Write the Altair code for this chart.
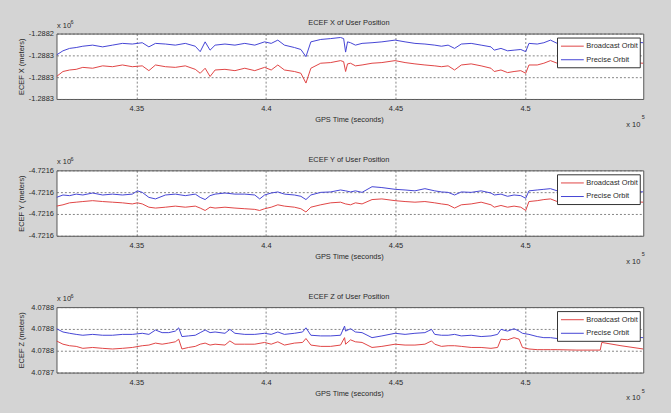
import altair as alt
import pandas as pd

RED = "#e04444"
BLUE = "#4444d4"
FONT = "Liberation Sans"
TXT = "#2a2a2a"

X_TICKS = [435000, 440000, 445000, 450000]
X_DOMAIN = [431920, 454560]

# ---------------- ECEF X ----------------
t_x = [431920, 432170, 432425, 432680, 432935, 433315, 433700, 434080, 434465, 434845,
       435230, 435485, 435740, 436125, 436505, 436890, 437275, 437465, 437655, 437845,
       438040, 438420, 438805, 439185, 439570, 439950, 440205, 440460, 440715, 441100,
       441350, 441545, 441735, 442115, 442500, 442880, 443000, 443075, 443150, 443265,
       443455, 443710, 444095, 444475, 444985, 445370, 445750, 446135, 446515, 446775,
       447030, 447280, 447540, 447920, 448305, 448685, 448810, 449070, 449325, 449575,
       449835, 450025, 450150, 450470, 450725, 450980, 451240, 452000, 453000, 454000,
       454560]
x_precise = [-1288255.8, -1288253.9, -1288252.8, -1288252.4, -1288251.8, -1288251.3, -1288252.1,
             -1288251.3, -1288250.5, -1288250.8, -1288250.2, -1288252.1, -1288250.5, -1288250.8,
             -1288251.3, -1288250.5, -1288251.8, -1288254.3, -1288249.8, -1288253.6, -1288251.3,
             -1288250.8, -1288251.3, -1288250.5, -1288251.3, -1288249.8, -1288250.5, -1288249.0,
             -1288251.3, -1288252.4, -1288253.3, -1288256.6, -1288249.8, -1288248.7, -1288248.3,
             -1288247.8, -1288248.3, -1288254.5, -1288249.8, -1288250.2, -1288251.3, -1288250.5,
             -1288250.2, -1288249.8, -1288249.0, -1288249.8, -1288250.5, -1288250.8, -1288251.3,
             -1288251.8, -1288251.3, -1288252.8, -1288250.8, -1288250.5, -1288251.3, -1288252.1,
             -1288253.6, -1288252.8, -1288253.9, -1288253.6, -1288253.3, -1288254.3, -1288250.5,
             -1288250.8, -1288250.2, -1288249.0, -1288250.5, -1288250.2, -1288250.5, -1288249.8,
             -1288250.2]
x_broadcast = [-1288265.7, -1288263.4, -1288262.7, -1288262.4, -1288261.5, -1288261.9, -1288260.8,
               -1288261.2, -1288260.4, -1288261.2, -1288260.8, -1288263.0, -1288260.4, -1288261.2,
               -1288261.5, -1288260.8, -1288262.4, -1288264.2, -1288261.9, -1288265.7, -1288262.7,
               -1288262.4, -1288263.0, -1288261.9, -1288263.0, -1288261.5, -1288262.7, -1288260.4,
               -1288262.7, -1288263.4, -1288264.2, -1288268.7, -1288261.9, -1288259.6, -1288259.3,
               -1288258.4, -1288258.9, -1288263.4, -1288259.9, -1288259.6, -1288260.8, -1288260.4,
               -1288259.6, -1288259.3, -1288258.4, -1288259.3, -1288259.9, -1288260.4, -1288260.8,
               -1288261.2, -1288260.8, -1288262.7, -1288260.4, -1288259.9, -1288260.8, -1288261.9,
               -1288263.4, -1288262.7, -1288263.9, -1288263.4, -1288263.0, -1288264.2, -1288260.4,
               -1288260.4, -1288259.6, -1288258.4, -1288259.6, -1288259.6, -1288259.9, -1288259.3,
               -1288259.6]
x_yticks = [-1288276, -1288266, -1288256, -1288246]

# ---------------- ECEF Y ----------------
t_y = [431920, 432170, 432425, 432680, 432935, 433315, 433700, 434080, 434465, 434845,
       435040, 435230, 435485, 435740, 436125, 436505, 436890, 437275, 437465, 437655,
       437845, 438040, 438420, 438805, 439185, 439570, 439760, 439950, 440205, 440460,
       440715, 441100, 441350, 441545, 441735, 442115, 442500, 442880, 443075, 443265,
       443455, 443710, 444095, 444475, 444985, 445370, 445750, 446135, 446515, 446775,
       447030, 447280, 447540, 447920, 448305, 448685, 448810, 449070, 449325, 449575,
       449835, 450025, 450150, 450470, 450725, 450980, 451240, 452000, 453000, 454000,
       454560]
y_precise = [-4721572.4, -4721571.3, -4721571.6, -4721570.9, -4721571.3, -4721570.4, -4721571.3,
             -4721570.9, -4721571.3, -4721570.9, -4721569.4, -4721570.1, -4721572.4, -4721573.1,
             -4721571.3, -4721570.9, -4721571.6, -4721570.9, -4721572.4, -4721573.4, -4721571.6,
             -4721570.9, -4721570.4, -4721570.9, -4721570.9, -4721571.3, -4721573.1, -4721571.3,
             -4721570.4, -4721569.9, -4721570.9, -4721571.3, -4721571.9, -4721573.4, -4721571.3,
             -4721570.1, -4721569.9, -4721569.0, -4721569.4, -4721569.9, -4721569.4, -4721570.1,
             -4721567.5, -4721567.9, -4721568.7, -4721569.0, -4721569.4, -4721568.4, -4721569.4,
             -4721569.9, -4721570.1, -4721571.3, -4721569.9, -4721570.1, -4721569.4, -4721570.4,
             -4721571.3, -4721570.9, -4721571.9, -4721571.3, -4721571.6, -4721572.8, -4721569.4,
             -4721569.0, -4721568.7, -4721568.4, -4721569.4, -4721569.4, -4721569.9, -4721569.4,
             -4721569.9]
y_broadcast = [-4721576.4, -4721575.8, -4721574.9, -4721574.6, -4721574.3, -4721573.9, -4721574.3,
               -4721574.6, -4721574.9, -4721575.4, -4721574.9, -4721575.4, -4721576.9, -4721577.3,
               -4721576.9, -4721576.4, -4721576.9, -4721576.4, -4721577.3, -4721578.4, -4721576.9,
               -4721577.3, -4721576.9, -4721577.3, -4721577.6, -4721577.9, -4721578.4, -4721577.6,
               -4721576.9, -4721575.8, -4721576.4, -4721576.9, -4721577.6, -4721579.1, -4721576.9,
               -4721575.8, -4721574.9, -4721574.6, -4721575.4, -4721575.8, -4721574.9, -4721575.4,
               -4721573.4, -4721573.1, -4721573.9, -4721574.3, -4721574.6, -4721574.3, -4721574.9,
               -4721575.4, -4721575.8, -4721577.3, -4721575.8, -4721575.4, -4721574.6, -4721575.8,
               -4721576.9, -4721576.1, -4721576.9, -4721576.4, -4721576.9, -4721578.4, -4721574.3,
               -4721573.9, -4721573.4, -4721573.1, -4721574.3, -4721574.3, -4721574.6, -4721574.3,
               -4721574.6]
y_yticks = [-4721590, -4721580, -4721570, -4721560]

# ---------------- ECEF Z ----------------
t_z = [431920, 432170, 432425, 432680, 432935, 433315, 433700, 434080, 434465, 434845,
       435230, 435485, 435740, 435995, 436250, 436505, 436635, 436760, 437015, 437275,
       437465, 437655, 437845, 438040, 438420, 438610, 438805, 439185, 439570, 439950,
       440205, 440460, 440715, 441100, 441415, 441545, 441735, 442115, 442500, 442880,
       443035, 443075, 443265, 443455, 443710, 444095, 444475, 444985, 445370, 445750,
       446135, 446390, 446515, 446775, 447030, 447280, 447540, 447920, 448305, 448685,
       448940, 449070, 449325, 449575, 449770, 449900, 450150, 450470, 450725, 450980,
       451240, 452000, 452900, 452960, 453700, 454560]
z_precise = [4078766.1, 4078764.6, 4078764.0, 4078763.5, 4078763.1, 4078763.5, 4078763.1,
             4078763.1, 4078763.5, 4078763.5, 4078764.0, 4078763.5, 4078765.5, 4078764.3,
             4078764.3, 4078765.0, 4078766.5, 4078762.5, 4078762.8, 4078763.1, 4078764.3,
             4078765.5, 4078764.3, 4078764.6, 4078764.0, 4078765.8, 4078764.0, 4078763.5,
             4078763.5, 4078764.0, 4078763.5, 4078764.6, 4078763.5, 4078764.0, 4078764.6,
             4078766.5, 4078763.1, 4078762.8, 4078762.8, 4078763.1, 4078767.3,
             4078765.0, 4078766.1, 4078764.6, 4078764.3, 4078762.0, 4078762.8, 4078764.0,
             4078763.5, 4078764.0, 4078764.3, 4078765.8, 4078763.5, 4078763.1, 4078763.1,
             4078763.5, 4078762.8, 4078763.1, 4078762.5, 4078762.8, 4078763.5, 4078765.8,
             4078765.0, 4078766.1, 4078765.0, 4078764.0, 4078763.5, 4078762.5, 4078762.0,
             4078762.0, 4078761.6, 4078762.0, 4078762.0, 4078762.0, 4078762.3, 4078762.0]
z_broadcast = [4078760.5, 4078759.0, 4078758.3, 4078758.0, 4078757.1, 4078757.5, 4078757.1,
               4078756.8, 4078757.1, 4078757.5, 4078758.3, 4078758.6, 4078759.5, 4078759.0,
               4078759.5, 4078760.1, 4078761.3, 4078756.8, 4078757.5, 4078758.0, 4078759.0,
               4078759.5, 4078758.6, 4078759.0, 4078758.6, 4078760.5, 4078759.0, 4078759.0,
               4078759.0, 4078759.8, 4078759.0, 4078760.1, 4078758.6, 4078759.5, 4078759.8,
               4078761.6, 4078758.6, 4078758.0, 4078758.0, 4078758.6, 4078762.0,
               4078759.0, 4078761.0, 4078760.1, 4078759.8, 4078757.5, 4078758.0, 4078759.0,
               4078758.6, 4078758.6, 4078759.0, 4078760.5, 4078759.0, 4078758.0, 4078758.3,
               4078758.3, 4078758.0, 4078757.5, 4078757.5, 4078757.1, 4078757.5, 4078761.3,
               4078761.0, 4078762.0, 4078761.3, 4078757.5, 4078756.8, 4078756.5, 4078756.5,
               4078756.5, 4078756.5, 4078756.3, 4078756.3, 4078759.8, 4078758.3, 4078756.8]
z_yticks = [4078746, 4078756, 4078766, 4078776]

SERIES = ["Broadcast Orbit", "Precise Orbit"]
W, H = 592, 66


def txt(one, s, x, y, size=7.5, align="left"):
    return alt.Chart(one).mark_text(align=align, baseline="middle", font=FONT, fontSize=size,
                                    color=TXT).encode(
        x=alt.value(x), y=alt.value(y), text=alt.value(s))


def panel(t, bc, pr, yticks, title, ytitle):
    df = pd.DataFrame({
        "t": list(t) + list(t),
        "v": list(bc) + list(pr),
        "s": [SERIES[0]] * len(t) + [SERIES[1]] * len(t),
    })
    lines = alt.Chart(df).mark_line(strokeWidth=1, clip=True).encode(
        x=alt.X("t:Q",
                scale=alt.Scale(domain=X_DOMAIN, nice=False, zero=False),
                axis=alt.Axis(values=X_TICKS, labelExpr="format(datum.value/1e5, '.2~f')",
                              title="GPS Time (seconds)", ticks=False, labelPadding=6,
                              titleX=W / 2 - 1, titleY=21, titleBaseline="middle",
                              grid=True, domain=False)),
        y=alt.Y("v:Q",
                scale=alt.Scale(domain=[yticks[0], yticks[-1]], nice=False, zero=False),
                axis=alt.Axis(values=yticks,
                              labelExpr="(datum.value < 0 ? '-' : '') + format(abs(datum.value)/1e6, '.4f')",
                              title=ytitle, ticks=False, labelPadding=3,
                              titleX=-35, titleY=H / 2, titleAngle=270, titleBaseline="middle",
                              grid=True, domain=False)),
        color=alt.Color("s:N", scale=alt.Scale(domain=SERIES, range=[RED, BLUE]), legend=None),
        detail="s:N",
    )
    one = pd.DataFrame({"k": [0]})
    box = alt.Chart(one).mark_rect(fill="white", stroke="#333333", strokeWidth=1).encode(
        x=alt.value(505.5), x2=alt.value(589), y=alt.value(4.5), y2=alt.value(34.5))
    l1 = alt.Chart(one).mark_rule(strokeWidth=1).encode(
        x=alt.value(509), x2=alt.value(532), y=alt.value(12.7), color=alt.value(RED))
    l2 = alt.Chart(one).mark_rule(strokeWidth=1).encode(
        x=alt.value(509), x2=alt.value(532), y=alt.value(26.4), color=alt.value(BLUE))
    layers = [
        lines, box, l1, l2,
        txt(one, SERIES[0], 534.5, 12.7),
        txt(one, SERIES[1], 534.5, 26.4),
        txt(one, title, W / 2 - 1, -10.6, align="center"),
        txt(one, "x 10", 0.5, -8),
        txt(one, "6", 14.2, -11.5, size=5.5),
        txt(one, "x 10", 589, 92, align="right"),
        txt(one, "5", 590.5, 84.5, size=5.5),
    ]
    return alt.layer(*layers).properties(width=W, height=H)


p1 = panel(t_x, x_broadcast, x_precise, x_yticks, "ECEF X of User Position", "ECEF X (meters)")
p2 = panel(t_y, y_broadcast, y_precise, y_yticks, "ECEF Y of User Position", "ECEF Y (meters)")
p3 = panel(t_z, z_broadcast, z_precise, z_yticks, "ECEF Z of User Position", "ECEF Z (meters)")

chart = alt.vconcat(p1, p2, p3, spacing=72, bounds="flush").properties(
    padding={"left": 17, "top": 16, "right": 25, "bottom": 15},
    background="#d4d4d4",
).configure_view(
    stroke="#555555", strokeWidth=1, fill="white"
).configure_axis(
    labelFont=FONT, labelFontSize=7.5, labelColor=TXT,
    titleFont=FONT, titleFontSize=7.5, titleFontWeight="normal", titleColor=TXT,
    gridColor="#666666", gridDash=[2, 2], gridWidth=0.8, gridOpacity=1,
)

chart.save("out.html", embed_options={"renderer": "svg", "actions": False})
